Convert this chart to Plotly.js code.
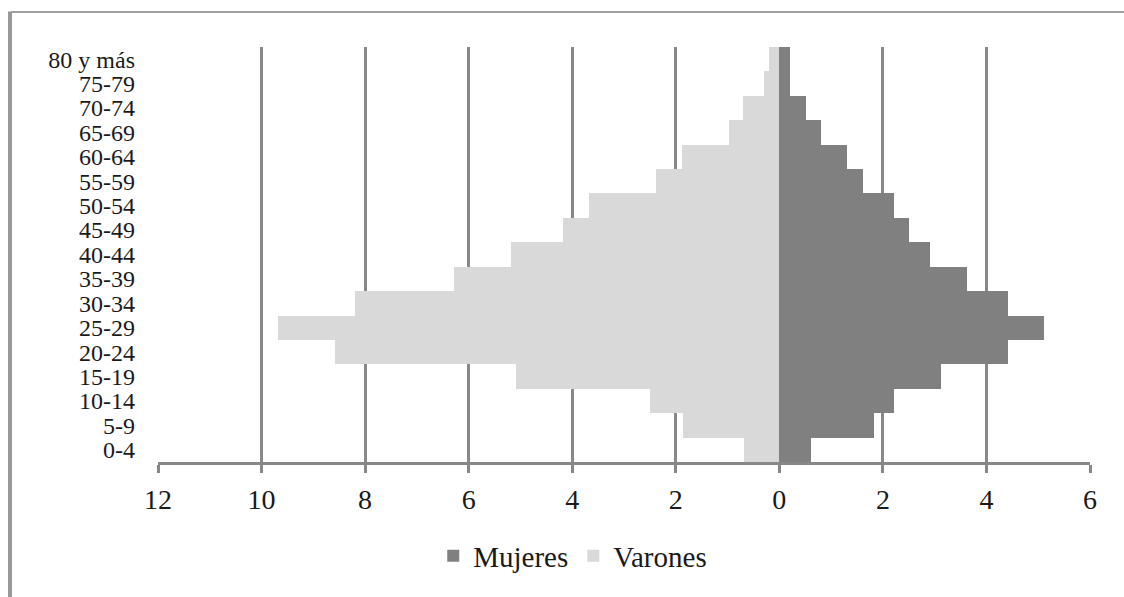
<!DOCTYPE html>
<html>
<head>
<meta charset="utf-8">
<script src="https://cdn.plot.ly/plotly-3.0.1.min.js"></script>
<style>
  html, body { margin: 0; padding: 0; background: #fff; }
  #chart { width: 1124px; height: 597px; }
</style>
</head>
<body>
<div id="chart"></div>
<script>
// Age groups, bottom to top
var ageGroups = ["0-4","5-9","10-14","15-19","20-24","25-29","30-34","35-39","40-44","45-49","50-54","55-59","60-64","65-69","70-74","75-79","80 y más"];
// Percentages
var mujeres = [0.62, 1.83, 2.22, 3.12, 4.42, 5.12, 4.42, 3.63, 2.91, 2.51, 2.21, 1.61, 1.30, 0.81, 0.51, 0.20, 0.20];
var varones = [0.68, 1.87, 2.49, 5.08, 8.58, 9.68, 8.19, 6.28, 5.18, 4.18, 3.67, 2.38, 1.88, 0.98, 0.70, 0.29, 0.20];
// Axis ticks
var tickValues = [-12, -10, -8, -6, -4, -2, 0, 2, 4, 6];
var tickLabels = ["12", "10", "8", "6", "4", "2", "0", "2", "4", "6"];

var varonesLeft = varones.map(function (v) { return -v; });

var serif = "'Liberation Serif', 'Times New Roman', serif";
var textColor = "#1a1a1a";
var gridColor = "#888888";

var traces = [
  {
    type: "bar", orientation: "h", name: "Mujeres",
    x: mujeres, y: ageGroups,
    marker: { color: "#808080", line: { width: 0 } },
    hoverinfo: "x+y+name"
  },
  {
    type: "bar", orientation: "h", name: "Varones",
    x: varonesLeft, y: ageGroups,
    marker: { color: "#d9d9d9", line: { width: 0 } },
    hoverinfo: "y+name"
  }
];

var layout = {
  width: 1124, height: 597,
  paper_bgcolor: "#ffffff", plot_bgcolor: "#ffffff",
  margin: { l: 158, r: 34, t: 47, b: 135, pad: 0 },
  barmode: "overlay", bargap: 0,
  font: { family: serif, color: textColor },
  showlegend: true,
  legend: {
    orientation: "h", x: 0.445, xanchor: "center", y: -0.2265, yanchor: "middle",
    font: { family: serif, size: 29, color: textColor },
    itemwidth: 30, tracegroupgap: 0, bgcolor: "rgba(0,0,0,0)"
  },
  xaxis: {
    range: [-12, 6], tickmode: "array", tickvals: tickValues, ticktext: tickLabels,
    showgrid: true, gridcolor: gridColor, gridwidth: 3,
    zeroline: false,
    showline: true, linecolor: gridColor, linewidth: 3,
    ticks: "outside", ticklen: 8, tickwidth: 3, tickcolor: gridColor,
    ticklabelstandoff: 2,
    tickfont: { family: serif, size: 28, color: textColor },
    fixedrange: true
  },
  yaxis: {
    type: "category", categoryorder: "array", categoryarray: ageGroups,
    range: [-0.5, 16.5],
    tickmode: "array", tickvals: ageGroups, ticktext: ageGroups,
    showgrid: false, zeroline: false, showline: false, ticks: "",
    ticklabelstandoff: 22,
    tickfont: { family: serif, size: 24, color: textColor },
    fixedrange: true
  },
  shapes: [
    { type: "line", xref: "paper", yref: "paper", x0: -0.1577, x1: 1.04, y0: 1.0843, y1: 1.0843,
      line: { color: "#a0a0a0", width: 2 } },
    { type: "line", xref: "paper", yref: "paper", x0: -0.1588, x1: -0.1588, y0: 1.0855, y1: -0.33,
      line: { color: "#999999", width: 4 } }
  ]
};

Plotly.newPlot("chart", traces, layout, { displayModeBar: false, staticPlot: true });
</script>
</body>
</html>
